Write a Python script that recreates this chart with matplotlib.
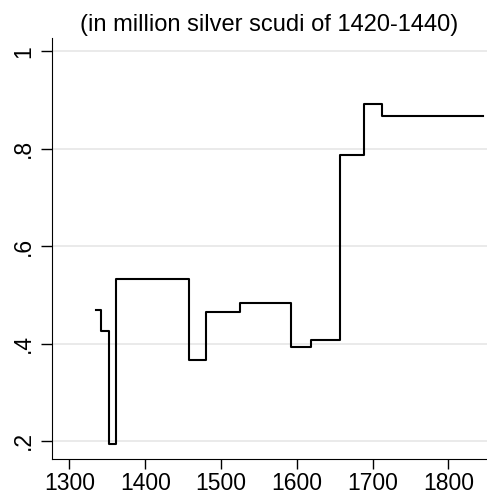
import matplotlib
matplotlib.use("Agg")
import matplotlib.pyplot as plt

plt.rcParams['font.family'] = ['Liberation Sans', 'DejaVu Sans']

years = [1335, 1342, 1352, 1362, 1458, 1480, 1525, 1592, 1619, 1657, 1689, 1712, 1846]
values = [0.469, 0.426, 0.193, 0.533, 0.367, 0.464, 0.484, 0.393, 0.407, 0.786, 0.891, 0.867, 0.867]
xticks = [1300, 1400, 1500, 1600, 1700, 1800]
yticks = [0.2, 0.4, 0.6, 0.8, 1.0]
ytick_labels = ['.2', '.4', '.6', '.8', '1']
title = '(in million silver scudi of 1420-1440)'

fig = plt.figure(figsize=(4.87, 4.94), dpi=100)
ax = fig.add_axes([52/487, 35/494, 435/487, (459-38)/494])
ax.step(years, values, where='post', color='black', lw=1.5)
ax.set_xlim(1277, 1851)
ax.set_ylim(0.163, 1.027)
ax.set_xticks(xticks)
ax.set_xticklabels([str(x) for x in xticks], fontsize=16.5)
ax.set_yticks(yticks)
ax.set_yticklabels(ytick_labels, fontsize=16.5, rotation=90, va='center')
ax.yaxis.grid(True, color='#e6e6e6', lw=1.2)
ax.set_axisbelow(True)
for s in ['top', 'right']:
    ax.spines[s].set_visible(False)
ax.tick_params(axis='x', length=7, width=1, pad=2)
ax.tick_params(axis='y', length=8, width=1, pad=4)
ax.set_title(title, fontsize=17, pad=5)
fig.savefig('out.png', dpi=100)
